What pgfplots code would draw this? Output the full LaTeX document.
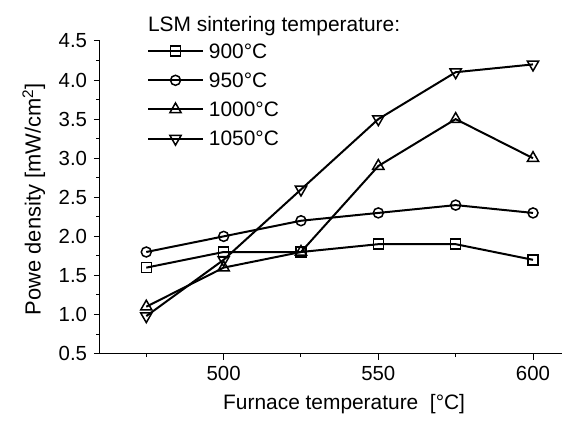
\documentclass[border=0pt]{standalone}
\usepackage{fontspec}
\setmainfont{Liberation Sans}
\usepackage{pgfplots}
\pgfplotsset{compat=1.18}
\begin{document}
\fontsize{20}{24}\selectfont
\begin{tikzpicture}
\begin{axis}[
  scale only axis, width=463bp, height=313bp,
  xmin=460, xmax=609.5, ymin=0.5, ymax=4.5,
  clip=false,
  axis lines*=left,
  axis line style={line width=1.2bp},
  tick align=outside,
  major tick length=6bp, minor tick length=3.5bp,
  tick style={line width=1bp, black},
  xtick={500,550,600}, minor xtick={475,525,575},
  ytick={0.5,1.0,1.5,2.0,2.5,3.0,3.5,4.0,4.5}, minor y tick num=1,
  yticklabel style={/pgf/number format/.cd, fixed, fixed zerofill, precision=1},
  /pgf/number format/assume math mode=true,
  tick label style={font=\fontsize{20.5}{24}\selectfont},
  xlabel={Furnace temperature\ \ [°C]},
  ylabel={Powe density [mW/cm\textsuperscript{2}]},
  xlabel style={font=\fontsize{21}{24}\selectfont, xshift=13bp},
  ylabel style={font=\fontsize{22}{24}\selectfont, xshift=-2bp},
  legend style={at={(rel axis cs:0.1015,0.8275)}, anchor=west,
    draw=none, fill=none, inner sep=0pt, row sep=14.7bp, column sep=5bp,
    nodes={inner sep=0pt, text height=14.5bp, text depth=0bp},
    font=\fontsize{21}{24}\selectfont},
  legend cell align=left,
  every axis plot post/.append style={black, line width=2bp,
    legend image code/.code={%
      \draw[##1, mark=none] (0bp,0bp) -- (55bp,0bp);
      \draw[##1, only marks] plot coordinates {(27.5bp,0bp)};}},
]
\addplot[mark=square, mark size=5bp,
  mark options={solid, fill=white, line width=1.5bp}] coordinates {
  (475,1.6) (500,1.8) (525,1.8) (550,1.9) (575,1.9) (600,1.7)};
\addlegendentry{900°C}
\addplot[mark=o, mark size=5bp,
  mark options={solid, fill=white, line width=1.5bp}] coordinates {
  (475,1.8) (500,2.0) (525,2.2) (550,2.3) (575,2.4) (600,2.3)};
\addlegendentry{950°C}
\addplot[mark=triangle, mark size=6.5bp,
  mark options={solid, fill=white, line width=1.5bp}] coordinates {
  (475,1.1) (500,1.6) (525,1.8) (550,2.9) (575,3.5) (600,3.0)};
\addlegendentry{1000°C}
\addplot[mark=triangle, mark size=6.5bp,
  mark options={solid, fill=white, line width=1.5bp, rotate=180}] coordinates {
  (475,0.98) (500,1.7) (525,2.6) (550,3.5) (575,4.1) (600,4.2)};
\addlegendentry{1050°C}
\node[anchor=base west, inner sep=0pt, font=\fontsize{21}{24}\selectfont]
  at (rel axis cs:0.1037,1.0288) {LSM sintering temperature:};
\end{axis}
\path (current axis.south west) ++(-100bp,-62bp);
\path (current axis.north east) ++(0bp,41bp);
\end{tikzpicture}
\end{document}
